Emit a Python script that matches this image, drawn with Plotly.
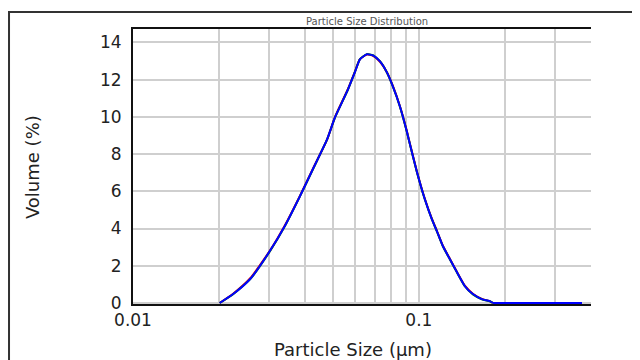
import plotly.graph_objects as go

# Particle size (µm) and volume (%)
size_um = [0.0201, 0.0224, 0.0257, 0.0301, 0.0340, 0.0384, 0.0426, 0.0477, 0.0509,
           0.0565, 0.0597, 0.0622, 0.0658, 0.0691, 0.0731, 0.0773, 0.0811, 0.0858,
           0.0908, 0.0923, 0.0984, 0.1049, 0.1110, 0.1156, 0.1213, 0.1283, 0.1358,
           0.1448, 0.1545, 0.1660, 0.1770, 0.1815]
vol_red = [0.0, 0.50, 1.33, 2.80, 4.18, 5.77, 7.22, 8.76, 10.00, 11.50, 12.42, 13.10,
           13.35, 13.28, 12.96, 12.40, 11.66, 10.58, 9.22, 8.77, 7.07, 5.60, 4.53,
           3.88, 3.08, 2.38, 1.68, 0.93, 0.50, 0.22, 0.10, 0.0]
vol_green = [0.0, 0.47, 1.28, 2.77, 4.13, 5.74, 7.18, 8.77, 9.97, 11.47, 12.40, 13.10,
             13.37, 13.31, 12.99, 12.38, 11.63, 10.56, 9.19, 8.74, 7.04, 5.57, 4.50,
             3.85, 3.05, 2.35, 1.65, 0.90, 0.46, 0.20, 0.09, 0.0]
vol_blue = [0.0, 0.48, 1.29, 2.79, 4.15, 5.75, 7.20, 8.78, 9.98, 11.48, 12.39, 13.09,
            13.36, 13.30, 12.98, 12.39, 11.64, 10.57, 9.20, 8.75, 7.05, 5.58, 4.51,
            3.86, 3.06, 2.36, 1.66, 0.91, 0.48, 0.21, 0.10, 0.0]
# blue series continues flat at zero up to the largest size class
size_blue_tail = [0.1815, 0.372]
vol_blue_tail = [0.0, 0.0]

x_grid = [0.01, 0.02, 0.03, 0.04, 0.05, 0.06, 0.07, 0.08, 0.09, 0.1, 0.2, 0.3, 0.4]
x_labels = ["0.01", "", "", "", "", "", "", "", "", "0.1", "", "", ""]
y_ticks = [0, 2, 4, 6, 8, 10, 12, 14]

fig = go.Figure()
for xs, ys, col in [(size_um, vol_red, "#ff0000"),
                    (size_um, vol_green, "#008000"),
                    (size_um, vol_blue, "#0000ff")]:
    fig.add_trace(go.Scatter(x=xs, y=ys, mode="lines",
                             line=dict(color=col, width=2, shape="spline", smoothing=0.5),
                             showlegend=False))
fig.add_trace(go.Scatter(x=size_blue_tail, y=vol_blue_tail, mode="lines",
                         line=dict(color="#0000ff", width=2), showlegend=False))

font_family = "DejaVu Sans"
# the page body has an 8px margin, so the figure is shifted by 8px; margins compensate
fig.update_layout(
    width=640, height=360,
    margin=dict(l=125, r=57, t=21, b=64),
    paper_bgcolor="white", plot_bgcolor="white",
    font=dict(family=font_family, color="#222222"),
    xaxis=dict(type="log", range=[-2, -0.39794], tickvals=x_grid, ticktext=x_labels,
               showgrid=True, gridcolor="#cfcfcf", gridwidth=1.5,
               showline=True, linecolor="#111111", linewidth=2, mirror=True,
               ticks="", tickfont=dict(size=17, family=font_family, color="#222222"),
               zeroline=False, layer="below traces"),
    yaxis=dict(range=[-0.055, 14.72], tickvals=y_ticks,
               showgrid=True, gridcolor="#cfcfcf", gridwidth=1.5,
               showline=True, linecolor="#111111", linewidth=2, mirror=False,
               ticks="outside", ticklen=6, tickcolor="rgba(0,0,0,0)",
               tickfont=dict(size=17, family=font_family, color="#222222"),
               zeroline=False, layer="below traces"),
    annotations=[
        dict(text="Particle Size Distribution", xref="paper", yref="paper",
             x=0.511, y=1.0255, xanchor="center", yanchor="middle", showarrow=False,
             font=dict(size=10, family=font_family, color="#555555")),
        dict(text="Volume (%)", xref="paper", yref="paper", textangle=-90,
             x=-0.2205, y=0.498, xanchor="center", yanchor="middle", showarrow=False,
             font=dict(size=18, family=font_family, color="#222222")),
        dict(text="Particle Size (µm)", xref="paper", yref="paper",
             x=0.480, y=-0.167, xanchor="center", yanchor="middle", showarrow=False,
             font=dict(size=18, family=font_family, color="#222222")),
    ],
    shapes=[
        dict(type="rect", xref="paper", yref="paper", x0=-0.2707, y0=-0.3, x1=1.2, y1=1.0618,
             line=dict(color="#333333", width=2), fillcolor="rgba(0,0,0,0)", layer="below"),
    ],
)

fig.write_html("out.html")
